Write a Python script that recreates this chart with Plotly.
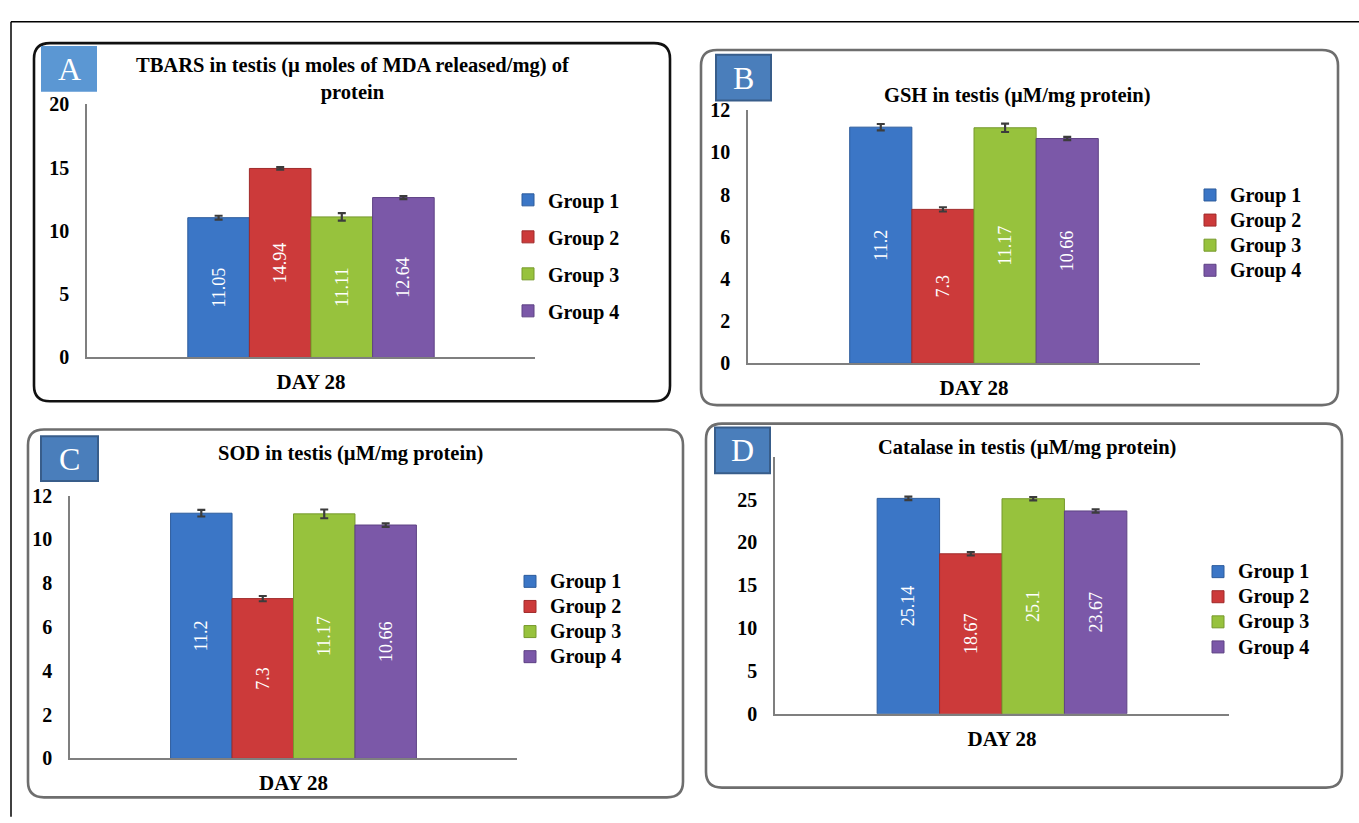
import plotly.graph_objects as go

W, H = 1359, 823

# ---- data -------------------------------------------------------------
groups = ["Group 1", "Group 2", "Group 3", "Group 4"]
day = ["DAY 28"]

tbars = [11.05, 14.94, 11.11, 12.64]
tbars_err = [0.15, 0.1, 0.3, 0.12]

gsh = [11.2, 7.3, 11.17, 10.66]
gsh_err = [0.15, 0.1, 0.2, 0.08]

sod = [11.2, 7.3, 11.17, 10.66]
sod_err = [0.15, 0.12, 0.2, 0.08]

catalase = [25.14, 18.67, 25.1, 23.67]
catalase_err = [0.2, 0.2, 0.2, 0.2]

colors = ["#3b76c6", "#cc3a3a", "#97c23d", "#7b58a8"]
edge_colors = ["#2d5c9c", "#a02a2a", "#76992c", "#5e4284"]

SERIF = "Liberation Serif"


def px(x):
    return x / W


def py(y):
    return 1 - y / H


def rounded_box(x0, y0, x1, y1, r):
    return (
        f"M {px(x0 + r)},{py(y0)} L {px(x1 - r)},{py(y0)} "
        f"Q {px(x1)},{py(y0)} {px(x1)},{py(y0 + r)} "
        f"L {px(x1)},{py(y1 - r)} Q {px(x1)},{py(y1)} {px(x1 - r)},{py(y1)} "
        f"L {px(x0 + r)},{py(y1)} Q {px(x0)},{py(y1)} {px(x0)},{py(y1 - r)} "
        f"L {px(x0)},{py(y0 + r)} Q {px(x0)},{py(y0)} {px(x0 + r)},{py(y0)} Z"
    )


# per-panel layout (pixel geometry of frame, plot area, labels)
panels = [
    dict(letter="A", title="TBARS in testis (µ moles of MDA released/mg) of<br>protein",
         values=tbars, errors=tbars_err, ymax=20, dtick=5, tickmax=20,
         frame=(34, 33, 670, 401), frame_color="#111111",
         badge=(42, 37, 96, 82), badge_fill="#5b97d3", badge_line="#5b97d3",
         plot=(87, 535, 356, 96), title_xy=(353, 70),
         legend_xy=(508, 174), legend_font=20, legend_gap=8, spaced=True),
    dict(letter="B", title="GSH in testis (µM/mg protein)",
         values=gsh, errors=gsh_err, ymax=12, dtick=2, tickmax=12,
         frame=(701, 40, 1338, 405), frame_color="#6e6e6e",
         badge=(716, 45, 771, 92), badge_fill="#4a7ebb", badge_line="#385d8a",
         plot=(748, 1200, 362, 102), title_xy=(1017, 87),
         legend_xy=(1190, 171), legend_font=17, legend_gap=0, spaced=False),
    dict(letter="C", title="SOD in testis (µM/mg protein)",
         values=sod, errors=sod_err, ymax=12, dtick=2, tickmax=12,
         frame=(28, 430, 683, 808), frame_color="#6e6e6e",
         badge=(41, 437, 98, 483), badge_fill="#4a7ebb", badge_line="#385d8a",
         plot=(70, 517, 768, 498), title_xy=(350, 455),
         legend_xy=(510, 568), legend_font=17, legend_gap=0, spaced=False),
    dict(letter="D", title="Catalase in testis (µM/mg protein)",
         values=catalase, errors=catalase_err, ymax=30, dtick=5, tickmax=25,
         frame=(706, 424, 1342, 798), frame_color="#6e6e6e",
         badge=(715, 428, 770, 475), badge_fill="#4a7ebb", badge_line="#385d8a",
         plot=(775, 1229, 722, 458), title_xy=(1027, 449),
         legend_xy=(1198, 558), legend_font=17, legend_gap=0, spaced=False),
]

fig = go.Figure()
shapes = []
annotations = []
layout_axes = {}

# outer page frame
shapes.append(dict(type="line", xref="paper", yref="paper", x0=px(11), x1=px(W + 5),
                   y0=py(11), y1=py(11), line=dict(color="#000000", width=1.5)))
shapes.append(dict(type="line", xref="paper", yref="paper", x0=px(11), x1=px(11),
                   y0=py(11), y1=py(H + 5), line=dict(color="#000000", width=1.5)))

for k, p in enumerate(panels):
    n = "" if k == 0 else str(k + 1)
    xa, ya = "x" + n, "y" + n
    leg = "legend" + n

    for i, g in enumerate(groups):
        v = p["values"][i]
        # compact legends keep a small row height but draw the entry text larger
        label = g if p["spaced"] else f"<span style='font-size:20px'>{g}</span>"
        fig.add_trace(go.Bar(
            x=day, y=[v], name=label,
            xaxis=xa, yaxis=ya, legend=leg, legendgroup=f"{p['letter']}{i}",
            marker=dict(color=colors[i], line=dict(color=edge_colors[i], width=1)),
            error_y=dict(type="data", array=[p["errors"][i]], color="#3c3c3c",
                         thickness=2.2, width=4),
            text=[f"{v:g}"], textposition="inside", textangle=-90,
            insidetextanchor="middle", constraintext="none",
            textfont=dict(family=SERIF, size=18, color="#ffffff"),
            hoverinfo="skip",
        ))

    x0, x1, yb, yt = p["plot"]
    layout_axes["xaxis" + n] = dict(
        domain=[px(x0), px(x1)], anchor=ya, type="category", range=[-0.5, 0.5],
        showline=True, linecolor="#7f7f7f", linewidth=1.6, ticks="",
        showgrid=False, zeroline=False, ticklabelstandoff=5,
        tickfont=dict(family=SERIF, size=21, color="#000000", weight="bold"),
    )
    layout_axes["yaxis" + n] = dict(
        domain=[py(yb), py(yt)], anchor=xa, range=[0, p["ymax"]],
        tickvals=list(range(0, p["tickmax"] + 1, p["dtick"])),
        showline=True, linecolor="#7f7f7f", linewidth=1.6, ticks="",
        showgrid=False, zeroline=False, ticklabelstandoff=12,
        tickfont=dict(family=SERIF, size=20, color="#000000", weight="bold"),
    )

    lx, ly = p["legend_xy"]
    layout_axes[leg] = dict(
        x=px(lx), y=py(ly), xanchor="left", yanchor="top",
        bgcolor="rgba(0,0,0,0)", borderwidth=0, itemwidth=30,
        tracegroupgap=p["legend_gap"],
        traceorder="grouped" if p["spaced"] else "normal",
        font=dict(family=SERIF, size=p["legend_font"], color="#000000", weight="bold"),
        itemclick=False, itemdoubleclick=False,
    )

    fx0, fy0, fx1, fy1 = p["frame"]
    shapes.append(dict(type="path", xref="paper", yref="paper",
                       path=rounded_box(fx0, fy0, fx1, fy1, 16),
                       line=dict(color=p["frame_color"], width=2.6),
                       fillcolor="rgba(0,0,0,0)", layer="above"))

    bx0, by0, bx1, by1 = p["badge"]
    shapes.append(dict(type="rect", xref="paper", yref="paper",
                       x0=px(bx0), x1=px(bx1), y0=py(by1), y1=py(by0),
                       fillcolor=p["badge_fill"], line=dict(color=p["badge_line"], width=2),
                       layer="above"))
    annotations.append(dict(xref="paper", yref="paper", x=px((bx0 + bx1) / 2),
                            y=py((by0 + by1) / 2), text=p["letter"], showarrow=False,
                            xanchor="center", yanchor="middle",
                            font=dict(family=SERIF, size=32, color="#ffffff")))

    tx, ty = p["title_xy"]
    annotations.append(dict(xref="paper", yref="paper", x=px(tx), y=py(ty),
                            text=p["title"], showarrow=False, xanchor="center",
                            yanchor="middle", align="center",
                            font=dict(family=SERIF, size=20.5, color="#000000", weight="bold")))

fig.update_layout(
    width=W, height=H, margin=dict(l=0, r=0, t=0, b=0),
    paper_bgcolor="#ffffff", plot_bgcolor="rgba(0,0,0,0)",
    barmode="group", bargap=0.45, bargroupgap=0,
    shapes=shapes, annotations=annotations, **layout_axes,
)

fig.write_html("out.html")
